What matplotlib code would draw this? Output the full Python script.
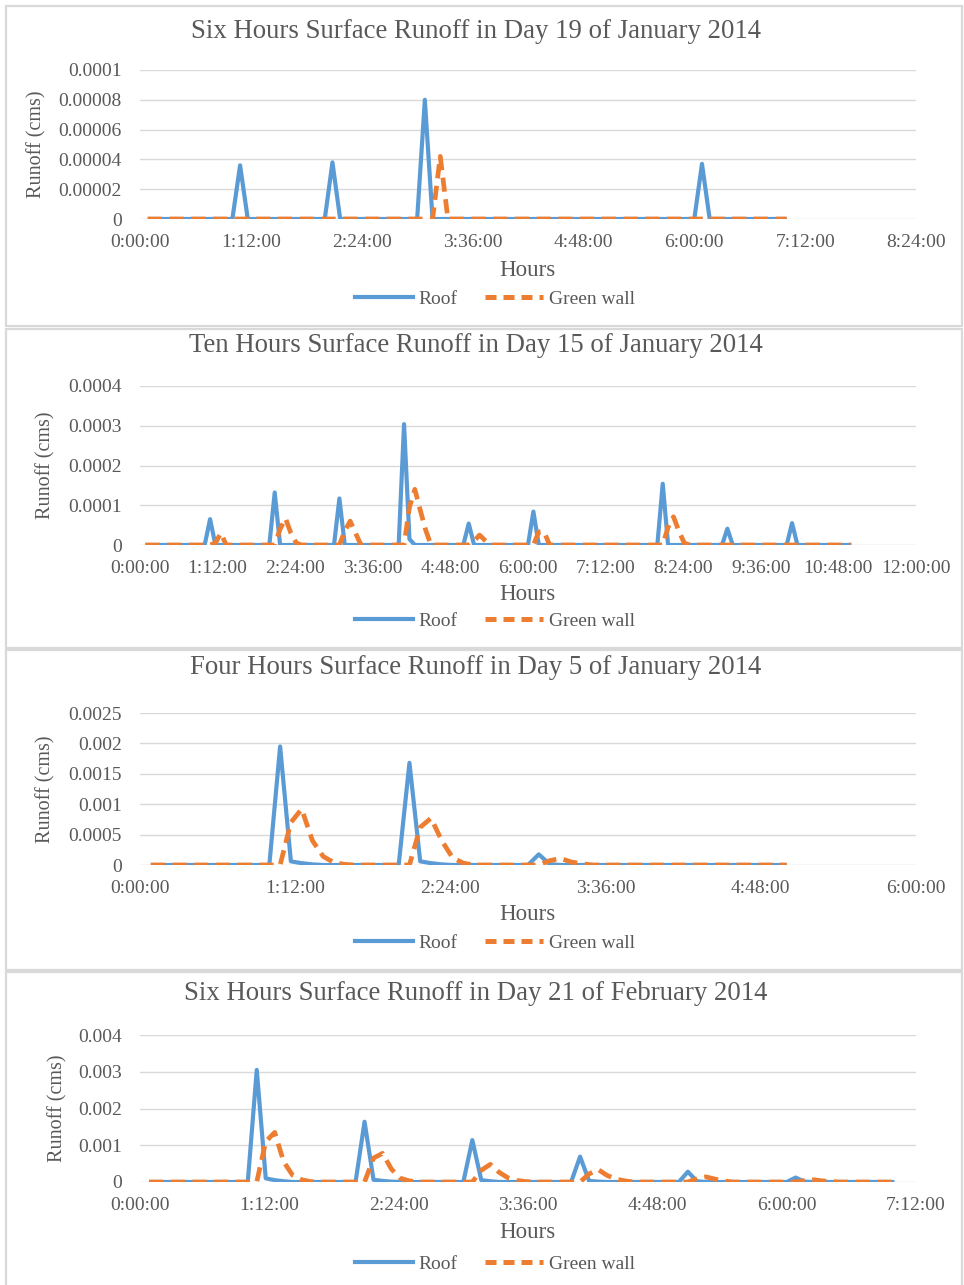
import matplotlib
matplotlib.use("Agg")
import matplotlib.pyplot as plt
from matplotlib.patches import Rectangle
from matplotlib.lines import Line2D

W, H, DPI = 964, 1285, 100
BLUE = "#5B9BD5"
ORANGE = "#ED7D31"
GRID = "#D9D9D9"
TXT = "#595959"
plt.rcParams["font.family"] = ["Liberation Serif", "DejaVu Serif"]

# ---------------- data (time in minutes, runoff in cms) ----------------
titles = [
    "Six Hours Surface Runoff in Day 19 of January 2014",
    "Ten Hours Surface Runoff in Day 15 of January 2014",
    "Four Hours Surface Runoff in Day 5 of January 2014",
    "Six Hours Surface Runoff in Day 21 of February 2014",
]

# Panel 1: 19 January 2014
roof1_t = [5, 60, 65, 70, 120, 125, 130, 180, 185, 190, 360, 365, 370, 420]
roof1_v = [0, 0, 3.6e-5, 0, 0, 3.8e-5, 0, 0, 8.0e-5, 0, 0, 3.7e-5, 0, 0]
green1_t = [5, 190, 195, 200, 420]
green1_v = [0, 0, 4.2e-5, 0, 0]
xlabels1 = ["0:00:00", "1:12:00", "2:24:00", "3:36:00", "4:48:00", "6:00:00", "7:12:00", "8:24:00"]
yticks1 = [0, 0.00002, 0.00004, 0.00006, 0.00008, 0.0001]
ylabels1 = ["0", "0.00002", "0.00004", "0.00006", "0.00008", "0.0001"]

# Panel 2: 15 January 2014
roof2_t = [5, 60, 65, 70, 120, 125, 130, 180, 185, 190, 240, 245, 250, 255,
           300, 305, 310, 360, 365, 370, 480, 485, 490, 540, 545, 550, 600, 605, 610, 660]
roof2_v = [0, 0, 6.5e-5, 0, 0, 1.32e-4, 0, 0, 1.17e-4, 0, 0, 3.04e-4, 1.5e-5, 0,
           0, 5.4e-5, 0, 0, 8.4e-5, 0, 0, 1.54e-4, 0, 0, 4.1e-5, 0, 0, 5.5e-5, 0, 0]
green2_t = [5, 65, 70, 75, 80, 125, 130, 135, 140, 145, 150, 185, 190, 195, 200, 205,
            245, 250, 255, 260, 265, 270, 305, 310, 315, 320, 325, 365, 370, 375, 380,
            485, 490, 495, 500, 505, 510, 660]
green2_v = [0, 0, 5e-6, 3.0e-5, 0, 0, 4.0e-5, 6.7e-5, 3.0e-5, 5e-6, 0, 0, 3.5e-5, 6.0e-5, 3.0e-5, 0,
            0, 9.5e-5, 1.4e-4, 8.8e-5, 3.8e-5, 0, 0, 1.0e-5, 2.5e-5, 1.2e-5, 0, 0, 3.3e-5, 3.3e-5, 0,
            0, 4.5e-5, 7.1e-5, 3.5e-5, 5e-6, 0, 0]
xlabels2 = ["0:00:00", "1:12:00", "2:24:00", "3:36:00", "4:48:00", "6:00:00", "7:12:00",
            "8:24:00", "9:36:00", "10:48:00", "12:00:00"]
yticks2 = [0, 0.0001, 0.0002, 0.0003, 0.0004]
ylabels2 = ["0", "0.0001", "0.0002", "0.0003", "0.0004"]

# Panel 3: 5 January 2014
roof3_t = [5, 60, 65, 70, 75, 80, 85, 120, 125, 130, 135, 140, 145, 180, 185, 190, 195, 300]
roof3_v = [0, 0, 1.95e-3, 6e-5, 3e-5, 1e-5, 0, 0, 1.68e-3, 6e-5, 3e-5, 1e-5, 0, 0, 1.75e-4, 1.5e-5, 0, 0]
green3_t = [5, 65, 70, 75, 80, 85, 90, 95, 100, 125, 130, 135, 140, 145, 150, 155,
            185, 190, 195, 200, 205, 210, 300]
green3_v = [0, 0, 7.0e-4, 9.2e-4, 4.0e-4, 1.4e-4, 4e-5, 1e-5, 0, 0, 6.2e-4, 7.7e-4, 4.0e-4, 1.2e-4, 3e-5, 0,
            0, 7e-5, 1.1e-4, 5e-5, 2e-5, 0, 0]
xlabels3 = ["0:00:00", "1:12:00", "2:24:00", "3:36:00", "4:48:00", "6:00:00"]
yticks3 = [0, 0.0005, 0.001, 0.0015, 0.002, 0.0025]
ylabels3 = ["0", "0.0005", "0.001", "0.0015", "0.002", "0.0025"]

# Panel 4: 21 February 2014
roof4_t = [5, 60, 65, 70, 75, 80, 85, 120, 125, 130, 135, 140, 145, 180, 185, 190, 195, 200,
           240, 245, 250, 255, 260, 300, 305, 310, 315, 360, 365, 370, 375, 420]
roof4_v = [0, 0, 3.05e-3, 1e-4, 5e-5, 2e-5, 0, 0, 1.64e-3, 6e-5, 3e-5, 1e-5, 0, 0, 1.14e-3, 5e-5, 2e-5, 0,
           0, 6.9e-4, 3e-5, 1e-5, 0, 0, 2.8e-4, 2e-5, 0, 0, 1.2e-4, 1e-5, 0, 0]
green4_t = [5, 65, 70, 75, 80, 85, 90, 95, 100, 125, 130, 135, 140, 145, 150, 155,
            185, 190, 195, 200, 205, 210, 215, 220, 245, 250, 255, 260, 265, 270, 275,
            305, 310, 315, 320, 325, 330, 365, 370, 375, 380, 385, 390, 420]
green4_v = [0, 0, 1.1e-3, 1.35e-3, 5.5e-4, 1.8e-4, 6e-5, 1e-5, 0, 0, 6.5e-4, 7.8e-4, 3.5e-4, 1.0e-4, 3e-5, 0,
            0, 3.2e-4, 4.8e-4, 2.6e-4, 1.1e-4, 4e-5, 1e-5, 0, 0, 2.2e-4, 3.4e-4, 1.8e-4, 8e-5, 3e-5, 0,
            0, 9e-5, 1.4e-4, 8e-5, 3e-5, 0, 0, 4e-5, 6e-5, 3e-5, 1e-5, 0, 0]
xlabels4 = ["0:00:00", "1:12:00", "2:24:00", "3:36:00", "4:48:00", "6:00:00", "7:12:00"]
yticks4 = [0, 0.001, 0.002, 0.003, 0.004]
ylabels4 = ["0", "0.001", "0.002", "0.003", "0.004"]

series_names = ["Roof", "Green wall"]
x_title = "Hours"
y_title = "Runoff (cms)"
TICK_STEP_MIN = 72

# ---------------- layout (pixels) ----------------
panels = [
    dict(box=(6, 6, 962, 326), ytop=70, ybot=219, title_y=31, hours_y=268, leg_y=297, ylab_x=37,
         roof=(roof1_t, roof1_v), green=(green1_t, green1_v), xl=xlabels1, yt=yticks1, yl=ylabels1),
    dict(box=(6, 329, 962, 648), ytop=386, ybot=545, title_y=346, hours_y=593, leg_y=619, ylab_x=46,
         roof=(roof2_t, roof2_v), green=(green2_t, green2_v), xl=xlabels2, yt=yticks2, yl=ylabels2),
    dict(box=(6, 650, 962, 970), ytop=713, ybot=865, title_y=667, hours_y=913, leg_y=941, ylab_x=46,
         roof=(roof3_t, roof3_v), green=(green3_t, green3_v), xl=xlabels3, yt=yticks3, yl=ylabels3),
    dict(box=(6, 972, 962, 1292), ytop=1035, ybot=1182, title_y=993, hours_y=1230, leg_y=1262, ylab_x=58,
         roof=(roof4_t, roof4_v), green=(green4_t, green4_v), xl=xlabels4, yt=yticks4, yl=ylabels4),
]
XL, XR = 140, 916

fig = plt.figure(figsize=(W / DPI, H / DPI), dpi=DPI)
fig.patch.set_facecolor("white")

def fx(px):
    return px / W

def fy(py):
    return 1 - py / H

for i, p in enumerate(panels):
    x0, y0, x1, y1 = p["box"]
    fig.patches.append(Rectangle((fx(x0), fy(y1)), fx(x1 - x0), (y1 - y0) / H,
                                 transform=fig.transFigure, fill=False,
                                 edgecolor=GRID, linewidth=1.6, zorder=0))
    ax = fig.add_axes([fx(XL), fy(p["ybot"]), fx(XR - XL), (p["ybot"] - p["ytop"]) / H])
    ax.set_facecolor("none")
    rt, rv = p["roof"]
    gt, gv = p["green"]
    ax.plot(rt, rv, color=BLUE, lw=3.0, solid_joinstyle="round", solid_capstyle="butt", zorder=3)
    ax.plot(gt, gv, color=ORANGE, lw=3.4, linestyle=(0, (3.0, 1.6)), dash_capstyle="butt",
            dash_joinstyle="round", zorder=4)
    nx = len(p["xl"])
    ax.set_xlim(0, (nx - 1) * TICK_STEP_MIN)
    ax.set_xticks([k * TICK_STEP_MIN for k in range(nx)])
    ax.set_xticklabels(p["xl"])
    ax.set_ylim(0, p["yt"][-1])
    ax.set_yticks(p["yt"])
    ax.set_yticklabels(p["yl"])
    ax.grid(axis="y", color=GRID, linewidth=1.0, zorder=0)
    ax.set_axisbelow(True)
    for s in ax.spines.values():
        s.set_visible(False)
    ax.tick_params(axis="both", length=0, labelsize=14, labelcolor=TXT)
    ax.tick_params(axis="y", pad=13)
    ax.tick_params(axis="x", pad=11)
    fig.text(fx(476), fy(p["title_y"]), titles[i], ha="center", va="center",
             fontsize=19.3, color=TXT)
    fig.text(fx(527), fy(p["hours_y"] + 2), x_title, ha="center", va="center",
             fontsize=16.5, color=TXT)
    fig.text(fx(p["ylab_x"]), fy((p["ytop"] + p["ybot"]) / 2), y_title, ha="center",
             va="center", rotation=90, fontsize=14.5, color=TXT)
    handles = [Line2D([], [], color=BLUE, lw=3.0),
               Line2D([], [], color=ORANGE, lw=3.6, linestyle=(0, (2.2, 1.4)))]
    fig.legend(handles, series_names, loc="center", bbox_to_anchor=(fx(495), fy(p["leg_y"] + 2)),
               ncol=2, frameon=False, fontsize=14, labelcolor=TXT, handlelength=3.0,
               handletextpad=0.3, columnspacing=1.4, borderaxespad=0, borderpad=0)

fig.savefig("out.png", dpi=DPI, facecolor="white")
